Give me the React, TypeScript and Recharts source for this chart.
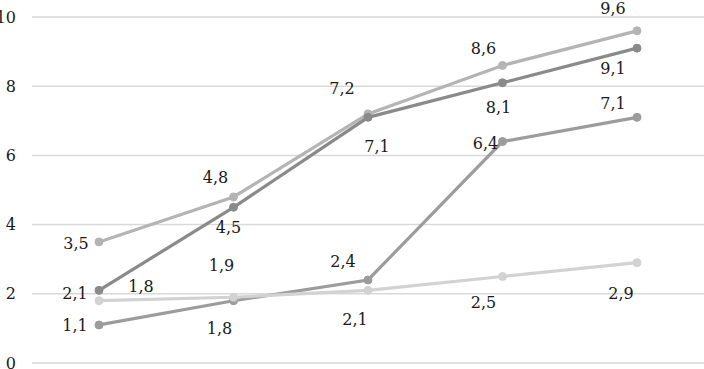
import { LineChart, Line, XAxis, YAxis, CartesianGrid, LabelList } from "recharts";

const categories = ["1", "2", "3", "4", "5"];
const seriesA = [3.5, 4.8, 7.2, 8.6, 9.6];
const seriesB = [2.1, 4.5, 7.1, 8.1, 9.1];
const seriesC = [1.1, 1.8, 2.4, 6.4, 7.1];
const seriesD = [1.8, 1.9, 2.1, 2.5, 2.9];
const yTicks = [0, 2, 4, 6, 8, 10];

// label offsets (centre of text relative to the dot), per series
const offsA = [[-23, 2], [-18, -19], [-26, -25], [-19, -17], [-24, -22]];
const offsB = [[-24, 3], [-5, 20], [9, 29], [-4, 25], [-24, 20]];
const offsC = [[-24, 1], [-14, 28], [-25, -18], [-17, 2], [-24, -14]];
const offsD = [[42, -14], [-12, -32], [-13, 29], [-19, 26], [-16, 31]];

const FONT = "DejaVu Serif, serif";

const data = categories.map((c, i) => ({
  cat: c,
  a: seriesA[i],
  b: seriesB[i],
  c: seriesC[i],
  d: seriesD[i],
}));

const fmt = (v: number) => v.toFixed(1).replace(".", ",");

function makeLabel(offs: number[][]) {
  return (props: any) => {
    const { x, y, value, index } = props;
    const [dx, dy] = offs[index] || [0, 0];
    return (
      <text
        x={x + dx}
        y={y + dy}
        textAnchor="middle"
        dominantBaseline="central"
        fontFamily={FONT}
        fontSize={16}
        fill="#1a1a1a"
      >
        {fmt(value)}
      </text>
    );
  };
}

const series = [
  { key: "a", color: "#b4b4b4", offs: offsA },
  { key: "b", color: "#8a8a8a", offs: offsB },
  { key: "c", color: "#9c9c9c", offs: offsC },
  { key: "d", color: "#d2d2d2", offs: offsD },
];

export default function App() {
  return (
    <div style={{ position: "absolute", left: 0, top: 0, background: "#fff" }}>
      <LineChart
        width={704}
        height={369}
        data={data}
        margin={{ top: 17, right: 0, bottom: 6, left: 0 }}
        style={{ fontFamily: FONT }}
      >
        <CartesianGrid vertical={false} stroke="#d9d9d9" strokeWidth={1.5} />
        <XAxis dataKey="cat" hide padding={{ left: 67, right: 67 }} />
        <YAxis
          width={32}
          domain={[0, 10]}
          ticks={yTicks}
          interval={0}
          axisLine={false}
          tickLine={false}
          tickSize={0}
          tickMargin={16}
          tick={{ fontFamily: FONT, fontSize: 16, fill: "#1a1a1a" }}
        />
        {series.map((s) => (
          <Line
            key={s.key}
            dataKey={s.key}
            stroke={s.color}
            strokeWidth={3.2}
            dot={{ r: 4, fill: s.color, stroke: s.color, strokeWidth: 1 }}
            isAnimationActive={false}
          >
            <LabelList dataKey={s.key} content={makeLabel(s.offs)} />
          </Line>
        ))}
      </LineChart>
    </div>
  );
}
